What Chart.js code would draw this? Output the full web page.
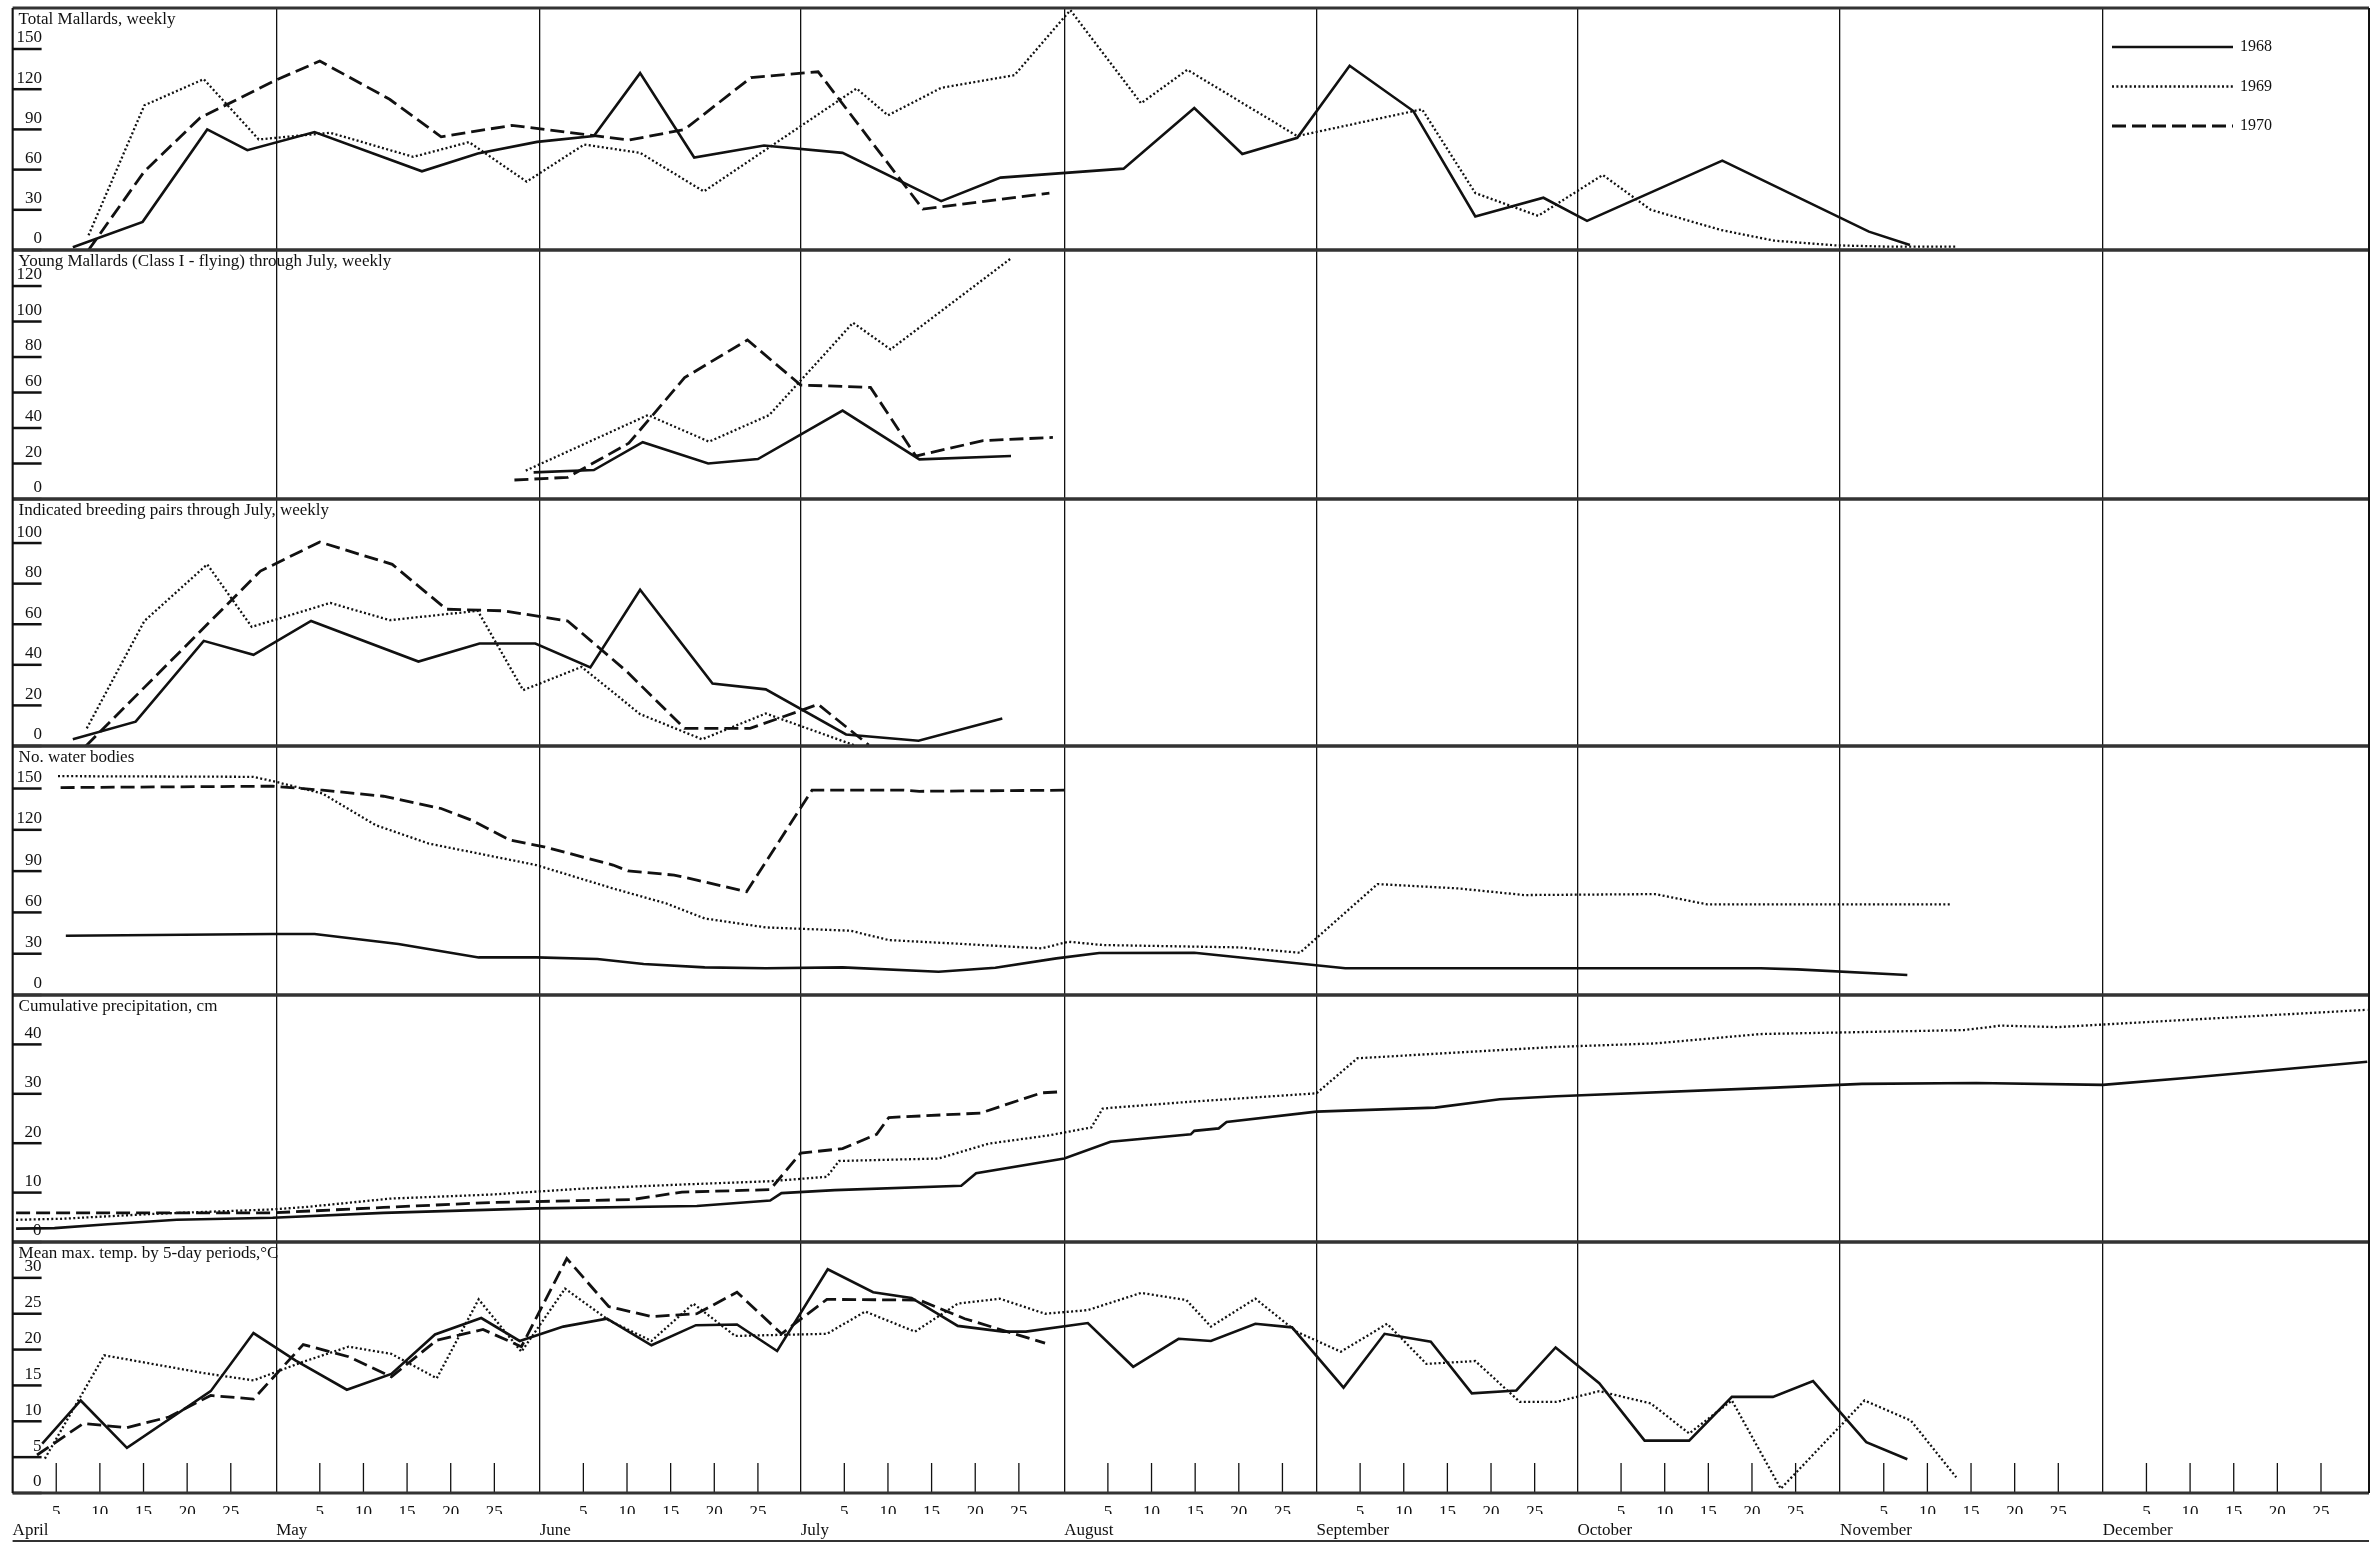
<!DOCTYPE html>
<html>
<head>
<meta charset="utf-8">
<script src="https://cdn.jsdelivr.net/npm/chart.js@4.4.0/dist/chart.umd.min.js"></script>
<style>
  html, body { margin: 0; padding: 0; background: #fff; }
  canvas { display: block; }
</style>
</head>
<body>
<canvas id="mallards" width="2377" height="1543"></canvas>
<script>
// x = day of the season, roughly 30 units per month starting 1 April
const monthNames = ['April', 'May', 'June', 'July', 'August', 'September', 'October', 'November', 'December'];
const monthStarts = [0, 30.2, 60.4, 90.3, 120.5, 149.4, 179.3, 209.4, 239.5];
const dayMarks = [5, 10, 15, 20, 25];
const yearLabels = ['1968', '1969', '1970'];

// Total Mallards, weekly
const totalMallards1968 = [[6.9,2],[14.9,21],[22.3,90],[26.9,74.5],[34.6,88],[46.9,58.7],[53.3,72],[60.1,80.7],[66.6,85],[71.9,132],[78.1,69],[86.1,78],[95.1,72.5],[106.4,36.5],[113.2,54],[127.3,60.7],[135.4,106],[140.9,71.7],[147.2,83.7],[153.2,137.5],[160.5,103.7],[167.6,25],[175.4,39],[180.4,21.7],[195.9,66.7],[212.7,13.7],[217.4,3.7]];
const totalMallards1969 = [[8.7,11],[15.1,108],[21.9,127.5],[28.2,82.5],[36.4,87.5],[45.9,69.5],[52.3,80.5],[58.9,51],[65.5,78.7],[71.9,72.5],[79.2,43.7],[96.7,120.5],[100.3,100.5],[106.4,121],[114.8,130.5],[121.2,179],[129.3,109.5],[134.6,134.5],[147.2,85],[161.5,105],[167.6,42.5],[174.8,25.5],[182.2,56],[187.7,30],[195.7,15],[201.8,7],[208.8,3.5],[215,2.5],[222.7,2.5]];
const totalMallards1970 = [[8.7,0],[15.1,58.7],[21.5,98.7],[30.4,127.5],[35.2,141],[43.2,112.5],[49.1,84.5],[57.2,93],[65.8,86],[70.6,82],[77,90],[84.6,128.7],[92.3,133],[104.3,30.5],[118.8,42.5]];

// Young Mallards (Class I - flying) through July
const youngMallards1968 = [[59.7,15],[66.6,16.3],[72.2,32],[79.7,20],[85.4,22.5],[95.1,49.8],[103.9,22.3],[114.4,24.2]];
const youngMallards1969 = [[58.8,16],[72.8,47.3],[79.8,32.3],[86.7,47.3],[96.3,99.3],[100.6,84.3],[114.4,135.6]];
const youngMallards1970 = [[57.5,10.7],[63.6,12.2],[70.6,31.4],[77,68.4],[84.2,89.6],[90.3,64.2],[98.3,62.9],[103.5,24.2],[111.2,32.9],[119.2,34.7]];

// Indicated breeding pairs through July
const breedingPairs1968 = [[6.9,3.3],[14.1,12],[21.9,51.8],[27.6,44.9],[34.2,61.6],[46.5,41.6],[53.5,50.5],[59.9,50.5],[66.2,38.7],[71.9,77],[80.2,30.8],[86.3,27.9],[95.5,5.7],[103.8,2.6],[113.4,13.6]];
const breedingPairs1969 = [[8.5,8.7],[15.1,61.6],[22.3,89.5],[27.4,58.7],[36.4,70.5],[43.2,62],[53.3,66.6],[58.5,27.5],[65.2,39],[71.9,15.7],[79,3.3],[86.3,16],[96.7,0]];
const breedingPairs1970 = [[8.4,0],[28.4,86.2],[35.2,100.5],[43.5,89.5],[49.7,67.4],[56.3,66.6],[63.6,61.6],[70.2,37.4],[77,8.7],[84.5,8.7],[92.3,20.5],[98.1,0.5]];

// No. water bodies
const waterBodies1968 = [[6.1,43],[29.8,44.3],[34.6,44.3],[44.2,37],[53.4,27.3],[60,27.3],[67,26.1],[72.3,22.5],[79.3,20.1],[86.3,19.4],[95.1,20.1],[106.1,16.9],[112.6,19.8],[119.6,26.6],[124.5,30.5],[135.4,30.7],[152.7,19.4],[176,19.4],[200.3,19.4],[204.5,18.6],[217.1,14.5]];
const waterBodies1969 = [[5.2,159],[27.6,158.5],[30.2,154.8],[35.5,146.4],[41.6,123.4],[47.7,110],[60,94.4],[68.8,77.4],[74.9,66.5],[79.3,55.6],[86.3,49.1],[96,46.7],[100.4,39.9],[109.1,37],[117.9,33.9],[121,38.7],[124.9,36.3],[140.5,34.6],[147.5,30.7],[156.4,80.6],[165.7,77.4],[173.2,72.6],[188.2,73.3],[194.2,65.8],[222.2,65.8]];
const waterBodies1970 = [[5.5,150.7],[29.8,151.7],[35.5,148.8],[42.5,144.4],[49.1,135.5],[52.6,127],[57,112.5],[60.9,107.7],[68.8,94.4],[70.5,90.2],[75.8,87.1],[78.4,83.5],[84.1,75],[91.6,148.8],[102.1,148.8],[103.9,148],[120.5,148.8]];

// Cumulative precipitation, cm
const precipitation1968 = [[0.4,2.7],[4.8,2.8],[10.9,3.6],[18.8,4.5],[29.8,4.9],[42.5,5.9],[60,6.8],[78.4,7.3],[86.8,8.4],[88.1,9.9],[94.2,10.5],[108.7,11.4],[110.4,13.9],[120.5,16.9],[125.8,20.3],[135,21.8],[135.4,22.5],[138.2,23],[139.1,24.3],[149.4,26.4],[163,27.2],[170.4,28.9],[176.9,29.5],[201.2,31.2],[211.9,32],[225,32.2],[239.5,31.8],[249.7,33.3],[269.8,36.5]];
const precipitation1969 = [[0.4,4.5],[5.6,4.7],[16.2,5.7],[29.8,6.6],[33.7,7.1],[43.4,8.8],[54.8,9.6],[65.3,10.8],[77.6,11.7],[86.8,12.3],[93.3,13.2],[94.7,16.4],[106.1,16.9],[111.8,19.9],[118.8,21.6],[123.6,23.2],[124.9,27],[126.1,27.2],[135,28.4],[149.4,30.1],[154.1,37.2],[176.9,39.5],[188.2,40.2],[200.3,42.1],[223.6,42.9],[227.8,43.8],[234.3,43.5],[242.3,44.3],[269.8,47]];
const precipitation1970 = [[0.4,5.9],[16.2,5.9],[29.8,5.9],[42.5,7],[54.8,8],[71,8.6],[76.7,10.1],[86.8,10.6],[90.3,18],[95.1,18.9],[99,21.8],[100.4,25.2],[110.9,26.1],[117.9,30.2],[120.1,30.4]];

// Mean max. temp. by 5-day periods, °C
const maxTemp1968 = [[3.4,6.9],[7.8,12.9],[13.1,6.3],[22.7,14.2],[27.6,22.3],[32.4,18.5],[38.3,14.4],[43.4,16.6],[48.4,22.1],[53.7,24.4],[58.1,21.2],[63.1,23.2],[68.1,24.3],[73.2,20.6],[78.3,23.4],[83,23.5],[87.6,19.8],[93.4,31.2],[98.6,28],[103,27.2],[108.3,23.3],[113.5,22.5],[116.1,22.5],[123.2,23.7],[128.4,17.6],[133.6,21.5],[137.3,21.2],[142.4,23.6],[146.6,23.1],[152.5,14.7],[157.2,22.2],[162.5,21.1],[167.2,13.9],[172.3,14.3],[176.8,20.3],[181.8,15.3],[187,7.3],[192.1,7.3],[197,13.4],[201.7,13.4],[206.3,15.6],[212.4,7.1],[217.1,4.7]];
const maxTemp1969 = [[3.7,4.8],[10.5,19.2],[22,16.7],[27.6,15.7],[33.3,18.3],[38.5,20.4],[43.4,19.4],[48.6,16],[53.4,27],[58.3,19.7],[63.3,28.5],[68.3,24.1],[73.2,21.2],[78,26.4],[82.8,21.9],[93.3,22.2],[97.7,25.3],[103.4,22.5],[108.3,26.4],[113.1,27.1],[118.3,25],[123.2,25.5],[129.3,27.9],[134.5,26.9],[137.3,23.2],[142.4,27.1],[147.1,22.5],[152.2,19.7],[157.5,23.6],[162,18],[167.6,18.4],[172.7,12.7],[176.9,12.7],[181.8,14.2],[187.7,12.5],[192.1,8.3],[197,12.9],[202.6,0.6],[212.2,12.9],[217.5,10.1],[222.7,2.2]];
const maxTemp1970 = [[2.8,5.3],[8.1,9.7],[13.1,9.1],[17.9,10.6],[22.7,13.6],[27.6,13.1],[33.3,20.7],[38.5,19],[43.4,16.2],[48.6,21.3],[53.9,22.8],[58.3,20.4],[63.5,32.7],[68.3,26],[73.2,24.6],[78.4,25],[83,28],[88.1,22.2],[93.3,27],[103.9,26.9],[109.1,24.3],[118.3,20.9]];

const panelTitles = [
  'Total Mallards, weekly',
  'Young Mallards (Class I - flying) through July, weekly',
  'Indicated breeding pairs through July, weekly',
  'No. water bodies',
  'Cumulative precipitation, cm',
  'Mean max. temp. by 5-day periods,\u00b0C'
];
const panelTicks = [
  [0, 30, 60, 90, 120, 150],
  [0, 20, 40, 60, 80, 100, 120],
  [0, 20, 40, 60, 80, 100],
  [0, 30, 60, 90, 120, 150],
  [0, 10, 20, 30, 40],
  [0, 5, 10, 15, 20, 25, 30]
];
const panelMax = [180.6, 140.3, 121.7, 180.9, 50, 35];

const panelSeries = [
  [totalMallards1968, totalMallards1969, totalMallards1970],
  [youngMallards1968, youngMallards1969, youngMallards1970],
  [breedingPairs1968, breedingPairs1969, breedingPairs1970],
  [waterBodies1968, waterBodies1969, waterBodies1970],
  [precipitation1968, precipitation1969, precipitation1970],
  [maxTemp1968, maxTemp1969, maxTemp1970]
];

const ink = '#111';
const serif = '"Liberation Serif", "DejaVu Serif", serif';
const fontSize = 17;
const yearDash = [[], [2, 2.4], [14, 6]];
const yearWidth = [2.6, 2.3, 2.8];
const panelHeights = [242, 249, 247, 249, 247, 251];
const labelPad = [4, 4, 4, 4, 12, 12];

const dayTicks = [];
const dayLabels = [];
monthStarts.forEach(s => dayMarks.forEach(d => { dayTicks.push(s + d); dayLabels.push(String(d)); }));

const panelIds = panelTitles.map((t, i) => 'y' + (i + 1));

const datasets = [];
panelSeries.forEach((series, p) => {
  series.forEach((pts, k) => {
    datasets.push({
      label: yearLabels[k],
      data: pts.map(d => ({ x: d[0], y: d[1] })),
      xAxisID: 'x',
      yAxisID: panelIds[p],
      borderColor: ink,
      borderWidth: yearWidth[k],
      borderDash: yearDash[k],
      pointRadius: 0,
      tension: 0,
      fill: false
    });
  });
});

function noPadding(a) {
  a.paddingTop = 0;
  a.paddingBottom = 0;
  a.paddingLeft = 0;
  a.paddingRight = 0;
}

const scales = {
  x: {
    type: 'linear', position: 'bottom', min: 0, max: 270, weight: 1,
    afterBuildTicks: a => { a.ticks = dayTicks.map(v => ({ value: v })); },
    afterFit: a => { a.height = 21; noPadding(a); },
    grid: { display: false }, border: { display: false },
    ticks: {
      autoSkip: false, maxRotation: 0, padding: 1, color: ink,
      font: { family: serif, size: fontSize },
      callback: (v, i) => dayLabels[i]
    }
  },
  xm: {
    type: 'linear', position: 'bottom', min: 0, max: 270, weight: 2,
    afterBuildTicks: a => { a.ticks = monthStarts.map(v => ({ value: v })); },
    afterFit: a => { a.height = 27; noPadding(a); },
    grid: { display: true, drawOnChartArea: true, drawTicks: false, color: ink, lineWidth: 1.3 },
    border: { display: false },
    ticks: {
      autoSkip: false, maxRotation: 0, padding: 6, align: 'start', color: ink,
      font: { family: serif, size: fontSize },
      callback: (v, i) => monthNames[i]
    }
  }
};
panelIds.forEach((id, i) => {
  scales[id] = {
    type: 'linear', position: 'left', stack: 'panels', stackWeight: panelHeights[i], weight: 10 - i,
    min: 0, max: panelMax[i],
    afterBuildTicks: a => { a.ticks = panelTicks[i].map(v => ({ value: v })); },
    afterFit: a => { a.width = 0; noPadding(a); },
    grid: { display: false }, border: { display: false },
    ticks: {
      autoSkip: false, mirror: true, crossAlign: 'far', padding: labelPad[i], labelOffset: -11, color: ink,
      font: { family: serif, size: fontSize }
    }
  };
});

function line(ctx, x1, y1, x2, y2) {
  ctx.beginPath();
  ctx.moveTo(x1, y1);
  ctx.lineTo(x2, y2);
  ctx.stroke();
}

// panel frames, tick marks, titles and the year key
const framePlugin = {
  id: 'frame',
  afterDraw(chart) {
    const { ctx, chartArea: a } = chart;
    const xs = chart.scales.x;
    ctx.save();
    ctx.strokeStyle = ink;
    ctx.fillStyle = ink;
    ctx.setLineDash([]);

    ctx.lineWidth = 1.3;
    xs.ticks.forEach(t => {
      const px = xs.getPixelForValue(t.value);
      line(ctx, px, a.bottom, px, a.bottom - 30);
    });

    ctx.font = fontSize + 'px ' + serif;
    ctx.textBaseline = 'middle';
    ctx.textAlign = 'left';
    panelIds.forEach((id, i) => {
      const s = chart.scales[id];
      ctx.lineWidth = 2.5;
      s.ticks.forEach(t => {
        const py = s.getPixelForValue(t.value);
        line(ctx, a.left, py, a.left + 29, py);
      });
      ctx.strokeStyle = '#333';
      ctx.lineWidth = 3;
      line(ctx, a.left, s.top, a.right, s.top);
      line(ctx, a.left, s.bottom, a.right, s.bottom);
      ctx.strokeStyle = ink;
      ctx.fillText(panelTitles[i], a.left + 6, s.top + 12);
    });

    ctx.lineWidth = 2;
    line(ctx, a.left, a.top, a.left, a.bottom);
    line(ctx, a.right, a.top, a.right, a.bottom);
    ctx.strokeStyle = '#333';
    line(ctx, a.left, chart.height - 2, a.right, chart.height - 2);

    const top = chart.scales[panelIds[0]].top;
    ctx.strokeStyle = ink;
    ctx.font = '16px ' + serif;
    yearLabels.forEach((lab, k) => {
      const y = top + 39 + k * 39.5;
      ctx.lineWidth = yearWidth[k];
      ctx.setLineDash(yearDash[k]);
      line(ctx, a.right - 257, y, a.right - 136, y);
      ctx.setLineDash([]);
      ctx.fillText(lab, a.right - 129, y);
    });
    ctx.restore();
  }
};

new Chart(document.getElementById('mallards'), {
  type: 'line',
  data: { datasets: datasets },
  options: {
    responsive: false,
    animation: false,
    devicePixelRatio: 1,
    events: [],
    layout: { padding: { left: 12.6, right: 8, top: 8, bottom: 2 } },
    plugins: { legend: { display: false }, tooltip: { enabled: false }, title: { display: false } },
    scales: scales
  },
  plugins: [framePlugin]
});
</script>
</body>
</html>
